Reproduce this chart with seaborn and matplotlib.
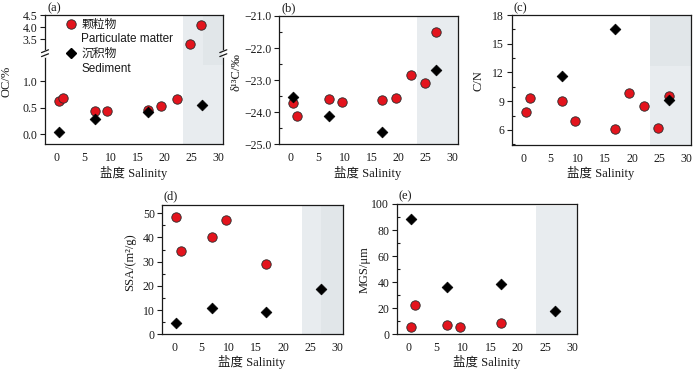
import matplotlib
matplotlib.use("Agg")
import matplotlib.pyplot as plt
import seaborn as sns
import pandas as pd
from matplotlib.lines import Line2D
from matplotlib.ticker import MultipleLocator, FuncFormatter

# ---------------- data ----------------
sal_pm = [0.4, 1.2, 7.0, 9.4, 16.9, 19.4, 22.3, 24.8, 26.8]
sal_sed = [0.4, 7.0, 16.9, 26.9]
sal_sed_cn = [7.0, 16.9, 26.9]
sal_pm_grain = [0.4, 1.2, 7.0, 9.4, 16.9]

oc_pm = [0.62, 0.68, 0.43, 0.44, 0.45, 0.53, 0.67, 3.31, 4.07]
oc_sed = [0.05, 0.28, 0.42, 0.55]

d13c_pm = [-23.70, -24.12, -23.60, -23.67, -23.62, -23.57, -22.85, -23.10, -21.50]
d13c_sed = [-23.52, -24.12, -24.63, -22.68]

cn_pm = [7.85, 9.30, 9.00, 6.90, 6.15, 9.90, 8.55, 6.25, 9.50]
cn_sed = [11.6, 16.5, 9.15]

ssa_pm = [48.3, 34.2, 40.3, 47.0, 29.2]
ssa_sed = [4.8, 10.9, 9.3, 18.9]

mgs_pm = [5.8, 22.2, 6.8, 5.7, 9.0]
mgs_sed = [88.4, 36.1, 38.9, 17.9]

x_ticks = [0, 5, 10, 15, 20, 25, 30]
shade_start = 23.4
xlabel_text = "盐度 Salinity"
panel_labels = ["(a)", "(b)", "(c)", "(d)", "(e)"]
legend_labels = ["颗粒物", "Particulate matter", "沉积物", "Sediment"]

# ---------------- style ----------------
sns.set_style("ticks")
plt.rcParams["font.family"] = ["Liberation Serif", "Noto Sans CJK SC"]
plt.rcParams["axes.unicode_minus"] = True
plt.rcParams["axes.linewidth"] = 0.9
plt.rcParams["axes.edgecolor"] = "#1a1a1a"
plt.rcParams["xtick.color"] = "#1a1a1a"
plt.rcParams["ytick.color"] = "#1a1a1a"
plt.rcParams["text.color"] = "#1a1a1a"

RED = "#e3141d"
EDGE = "#2a2a2a"
SHADE = "#e8ecef"
SHADE_DK = "#e1e6e9"
W, H = 700, 369
XL = (-2.2, 30.9)
TICK_FS = 8.5
LAB_FS = 9


def rect(l, t, r, b):
    return [l / W, 1 - b / H, (r - l) / W, (b - t) / H]


def fp(x, y):
    return (x / W, 1 - y / H)


fig = plt.figure(figsize=(7, 3.69), dpi=100)


def fmt1(v, pos):
    return f"{v:.1f}".replace("-", "\u2212")


def fmt0(v, pos):
    return f"{v:.0f}"


def style(ax, major=None, minor=None, fmt=fmt0, xlabels=True):
    ax.set_xlim(XL)
    ax.set_xticks(x_ticks)
    ax.tick_params(axis="x", length=0, pad=5.5, labelsize=TICK_FS,
                   labelbottom=xlabels)
    if major is not None:
        ax.yaxis.set_major_locator(MultipleLocator(major))
    if minor is not None:
        ax.yaxis.set_minor_locator(MultipleLocator(minor))
    ax.yaxis.set_major_formatter(FuncFormatter(fmt))
    ax.tick_params(axis="y", which="major", direction="out", length=3.6,
                   width=0.8, pad=1.8, labelsize=TICK_FS)
    ax.tick_params(axis="y", which="minor", direction="in", length=2.5,
                   width=0.8)
    ax.set_xlabel("")
    ax.set_ylabel("")
    for s in ax.spines.values():
        s.set_visible(True)


def points(ax, xs, ys, kind):
    df = pd.DataFrame({"x": xs, "y": ys})
    if kind == "pm":
        sns.scatterplot(data=df, x="x", y="y", ax=ax, marker="o", s=46,
                        color=RED, edgecolor=EDGE, linewidth=0.6, zorder=3,
                        legend=False)
    else:
        sns.scatterplot(data=df, x="x", y="y", ax=ax, marker="D", s=30,
                        color="black", edgecolor="black", linewidth=0.5,
                        zorder=4, legend=False)


# ---------------- (a) broken axis ----------------
a_top = fig.add_axes(rect(45, 15, 223.3, 53))
a_bot = fig.add_axes(rect(45, 53, 223.3, 144))
for ax in (a_top, a_bot):
    ax.axvspan(shade_start, 31, color=SHADE, lw=0, zorder=0)
a_top.axvspan(27.2, 31, color=SHADE_DK, lw=0, zorder=0)
a_bot.axvspan(27.2, 31, ymin=0.868, ymax=1, color=SHADE_DK, lw=0, zorder=0)
for ax in (a_top, a_bot):
    points(ax, sal_pm, oc_pm, "pm")
    points(ax, sal_sed, oc_sed, "sed")
a_top.set_ylim(2.94, 4.5)
a_bot.set_ylim(-0.18, 1.525)
style(a_top, fmt=fmt1, xlabels=False)
a_top.set_yticks([3.5, 4.0, 4.5])
style(a_bot, fmt=fmt1)
a_bot.set_yticks([0.0, 0.5, 1.0])
a_top.spines["bottom"].set_visible(False)
a_bot.spines["top"].set_visible(False)

# break marks on both spines
for bx in (45, 223.3):
    fig.add_artist(Line2D([bx / W, bx / W], [1 - 51 / H, 1 - 55.5 / H],
                          transform=fig.transFigure, color="white", lw=2.0,
                          zorder=10))
    for by in (51.2, 55.2):
        fig.add_artist(Line2D([(bx - 3.5) / W, (bx + 3.5) / W],
                              [1 - (by + 1.4) / H, 1 - (by - 1.4) / H],
                              transform=fig.transFigure, color="#1a1a1a",
                              lw=0.9, zorder=11))

# ---------------- (b) ----------------
ax_b = fig.add_axes(rect(279, 16, 457.7, 144.3))
ax_b.axvspan(shade_start, 31, color=SHADE, lw=0, zorder=0)
points(ax_b, sal_pm, d13c_pm, "pm")
points(ax_b, sal_sed, d13c_sed, "sed")
ax_b.set_ylim(-25, -21)
style(ax_b, 1.0, 0.5, fmt1)

# ---------------- (c) ----------------
ax_c = fig.add_axes(rect(511.7, 15, 691, 145))
ax_c.axvspan(shade_start, 31, color=SHADE, lw=0, zorder=0)
ax_c.axvspan(shade_start, 31, ymin=0.61, ymax=1, color=SHADE_DK, lw=0,
             zorder=0)
points(ax_c, sal_pm, cn_pm, "pm")
points(ax_c, sal_sed_cn, cn_sed, "sed")
ax_c.set_ylim(4.43, 18)
style(ax_c, 3, 1.5, fmt0)

# ---------------- (d) ----------------
ax_d = fig.add_axes(rect(162.3, 205, 342.7, 334.3))
ax_d.axvspan(shade_start, 31, color=SHADE, lw=0, zorder=0)
ax_d.axvspan(27.0, 31, color=SHADE_DK, lw=0, zorder=0)
points(ax_d, sal_pm_grain, ssa_pm, "pm")
points(ax_d, sal_sed, ssa_sed, "sed")
ax_d.set_ylim(0, 53.4)
style(ax_d, 10, 5, fmt0)

# ---------------- (e) ----------------
ax_e = fig.add_axes(rect(396.7, 204, 577.3, 334.3))
ax_e.axvspan(shade_start, 31, ymin=0, ymax=0.985, color=SHADE, lw=0, zorder=0)
points(ax_e, sal_pm_grain, mgs_pm, "pm")
points(ax_e, sal_sed, mgs_sed, "sed")
ax_e.set_ylim(0, 100)
style(ax_e, 20, 10, fmt0)

# ---------------- labels ----------------
lab_font = ["Liberation Serif", "Noto Sans CJK SC"]
ylabels = [("OC/%", 6, 81), ("δ¹³C/‰", 236, 72), ("C/N", 479, 81),
           ("SSA/(m²/g)", 130, 262), ("MGS/μm", 365, 270)]
for txt, x, y in ylabels:
    fig.text(*fp(x, y), txt, rotation=90, ha="center", va="center",
             fontsize=LAB_FS, family=lab_font)

xlabels = [(134, 173), (368, 173), (601, 173), (252, 362), (487, 362)]
for x, y in xlabels:
    fig.text(*fp(x, y), xlabel_text, ha="center", va="center",
             fontsize=LAB_FS, family=lab_font)

plabels = [(47, 8), (281, 8), (513, 8), (164, 196), (399, 196)]
for txt, (x, y) in zip(panel_labels, plabels):
    fig.text(*fp(x, y), txt, ha="left", va="center", fontsize=LAB_FS,
             family=lab_font)

# legend in panel (a)
handles = [
    Line2D([], [], linestyle="none", marker="o", markersize=6.8,
           markerfacecolor=RED, markeredgecolor=EDGE, markeredgewidth=0.6),
    Line2D([], [], linestyle="none", marker=None),
    Line2D([], [], linestyle="none", marker="D", markersize=5.0,
           markerfacecolor="black", markeredgecolor="black"),
    Line2D([], [], linestyle="none", marker=None),
]
fig.legend(handles, legend_labels, loc="upper left",
           bbox_to_anchor=fp(60.6, 13), frameon=False, borderpad=0,
           handlelength=0.8, handletextpad=0.45, labelspacing=0.22,
           prop={"family": ["Liberation Sans", "Noto Sans CJK SC"],
                 "size": 8.5})

fig.savefig("out.png", dpi=100)
